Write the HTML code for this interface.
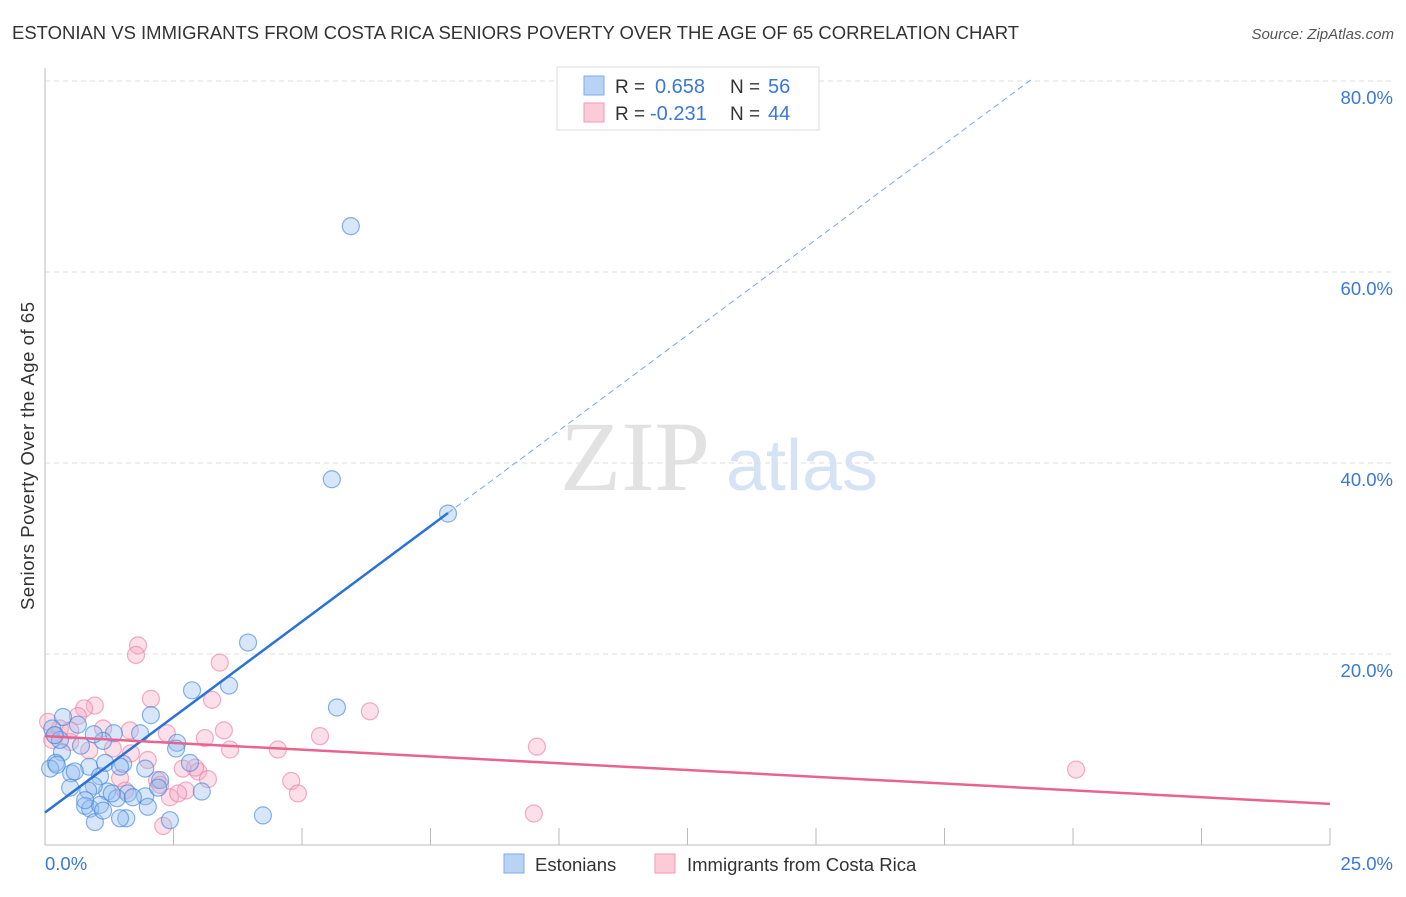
<!DOCTYPE html>
<html><head><meta charset="utf-8"><style>
body{margin:0;background:#fff;font-family:"Liberation Sans",sans-serif}
</style></head><body>
<svg id="c" width="1406" height="892" font-family="Liberation Sans, sans-serif">
<text x="12" y="39" font-size="18" fill="#333" textLength="1007" lengthAdjust="spacingAndGlyphs">ESTONIAN VS IMMIGRANTS FROM COSTA RICA SENIORS POVERTY OVER THE AGE OF 65 CORRELATION CHART</text>
<text x="1394" y="39" font-size="15" fill="#555" font-style="italic" text-anchor="end">Source: ZipAtlas.com</text>
<text x="0" y="0" transform="translate(34,456) rotate(-90)" font-size="18.5" fill="#333" text-anchor="middle" textLength="308">Seniors Poverty Over the Age of 65</text>
<g id="grid"></g>
<text x="635" y="490" font-size="100" fill="#e2e2e2" style="font-family:'Liberation Serif',serif" text-anchor="middle">ZIP</text>
<text x="802" y="490" font-size="72" fill="#d6e3f5" text-anchor="middle">atlas</text>
<g id="pts"></g>
<g id="lines"></g>
<g>
<rect x="557" y="67" width="262" height="63" fill="#fff" stroke="#ddd"/>
<rect x="584" y="76" width="20" height="19" fill="#b9d3f5" stroke="#7faaea"/>
<rect x="584" y="103" width="20" height="19" fill="#fbcbd8" stroke="#f19ab4"/>
<text x="615" y="93" font-size="19" fill="#333">R =</text>
<text x="655" y="93" font-size="20" fill="#3a78d8">0.658</text>
<text x="730" y="93" font-size="19" fill="#333">N =</text>
<text x="768" y="93" font-size="20" fill="#3a78d8">56</text>
<text x="615" y="120" font-size="19" fill="#333">R =</text>
<text x="650" y="120" font-size="20" fill="#3a78d8">-0.231</text>
<text x="730" y="120" font-size="19" fill="#333">N =</text>
<text x="768" y="120" font-size="20" fill="#3a78d8">44</text>
</g>
<g>
<rect x="504" y="854" width="20" height="19" fill="#b9d3f5" stroke="#7faaea"/>
<text x="535" y="871" font-size="18.5" fill="#333">Estonians</text>
<rect x="655" y="854" width="20" height="19" fill="#fbcbd8" stroke="#f19ab4"/>
<text x="687" y="871" font-size="18.5" fill="#333">Immigrants from Costa Rica</text>
</g>
</svg>
<script>
const yTicks=[20,40,60,80];
const xTickLabels=["0.0%","25.0%"];
const blueX=[5.95,5.58,7.84,3.95,2.86,3.58,5.68,2.06,1.85,2.57,1.34,0.35,0.64,0.14,1.13,0.70,0.33,0.21,0.10,0.86,1.52,1.95,2.82,0.51,0.58,1.07,2.24,3.05,1.21,1.61,1.95,0.49,0.95,0.78,0.88,1.07,1.40,2.00,1.58,1.46,0.97,2.43,4.24,1.30,1.71,0.23,0.84,0.95,2.55,2.20,1.17,1.46,0.29,0.78,1.13,0.19];
const blueY=[64.8,38.3,34.7,21.2,16.2,16.7,14.4,13.6,11.7,10.7,11.7,13.4,12.6,12.2,10.9,10.4,9.7,8.6,8.0,8.2,8.5,8.0,8.6,7.5,7.7,7.2,6.8,5.6,5.6,5.4,5.1,6.0,6.2,4.1,3.8,4.2,4.9,4.0,2.8,2.8,2.4,2.6,3.1,5.4,5.0,8.4,5.7,11.6,10.1,6.0,8.6,8.2,11.0,4.7,3.6,11.5];
const pinkX=[1.81,1.77,3.40,2.06,3.25,6.32,0.97,0.76,0.64,3.48,3.11,2.37,1.13,1.65,5.35,3.60,4.53,9.57,1.32,0.86,0.49,0.29,0.06,0.19,0.49,1.67,2.00,2.68,2.98,3.17,2.92,1.46,2.18,2.24,4.79,4.92,2.43,2.74,2.59,1.56,2.30,9.51,20.06,0.14];
const pinkY=[20.9,19.9,19.1,15.3,15.2,14.0,14.6,14.3,13.5,12.0,11.2,11.7,12.2,12.0,11.4,10.0,10.0,10.3,10.1,9.9,10.8,12.2,12.9,11.5,12.0,9.6,8.9,8.0,7.7,6.9,8.1,7.0,6.8,6.3,6.7,5.4,5.0,5.7,5.4,5.7,2.0,3.3,7.9,11.0];
const blueFit=[3.4,4.0];   // intercept, slope
const pinkFit=[11.4,-0.284];
const X=v=>45+v*51.4, Y=v=>845-v*9.55;
const NS="http://www.w3.org/2000/svg";
function mk(t,a,p){const e=document.createElementNS(NS,t);for(const k in a)e.setAttribute(k,a[k]);p.appendChild(e);return e;}
const g=document.getElementById('grid');
yTicks.forEach(t=>{
 const l=mk('line',{x1:45,x2:1394,y1:Y(t),y2:Y(t),stroke:'#ddd','stroke-dasharray':'5,4'},g);
 
 
 const tx=mk('text',{x:1393,y:Y(t)+23,'font-size':18.5,fill:'#3a78d8','text-anchor':'end'},g);tx.textContent=t.toFixed(1)+'%';
 
 
});
mk('line',{x1:45,x2:45,y1:68,y2:845,stroke:'#bbb'},g);
mk('line',{x1:45,x2:1330,y1:845,y2:845,stroke:'#bbb'},g);
for(let i=1;i<=10;i++){mk('line',{x1:X(i*2.5),x2:X(i*2.5),y1:828,y2:845,stroke:'#bbb'},g);}
const xl0=mk('text',{x:45,y:870,'font-size':18.5,fill:'#3a78d8'},g);xl0.textContent=xTickLabels[0];


const xl1=mk('text',{x:1393,y:870,'font-size':18.5,fill:'#3a78d8','text-anchor':'end'},g);xl1.textContent=xTickLabels[1];


const p=document.getElementById('pts');
pinkX.forEach((x,i)=>{const c=mk('circle',{cx:X(x),cy:Y(pinkY[i]),r:8.5,fill:'rgba(248,170,195,0.38)',stroke:'rgba(236,120,160,0.6)','stroke-width':1.2},p);
 
 });
blueX.forEach((x,i)=>{const c=mk('circle',{cx:X(x),cy:Y(blueY[i]),r:8.5,fill:'rgba(150,190,240,0.38)',stroke:'rgba(60,130,220,0.6)','stroke-width':1.2},p);
 
 });
const L=document.getElementById('lines');
const bx1=7.84,bx2=(80.1-blueFit[0])/blueFit[1];
const b1=mk('line',{x1:X(0),y1:Y(blueFit[0]),x2:X(bx1),y2:Y(blueFit[0]+blueFit[1]*bx1),stroke:'#2a72d8','stroke-width':2.5},L);


const b2=mk('line',{x1:X(bx1),y1:Y(blueFit[0]+blueFit[1]*bx1),x2:X(bx2),y2:Y(blueFit[0]+blueFit[1]*bx2),stroke:'#7aa6e6','stroke-width':1,'stroke-dasharray':'6,4'},L);


const pl=mk('line',{x1:X(0),y1:Y(pinkFit[0]),x2:X(25),y2:Y(pinkFit[0]+pinkFit[1]*25),stroke:'#e8648f','stroke-width':2.5},L);


</script>
</body></html>
